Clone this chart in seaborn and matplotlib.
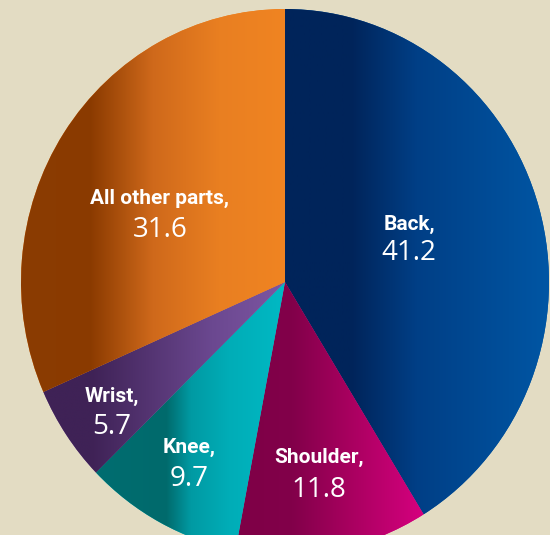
import numpy as np
import matplotlib
matplotlib.use("Agg")
import matplotlib.pyplot as plt
import seaborn as sns
from matplotlib.colors import LinearSegmentedColormap

# ---- data ----
parts = ["Back", "Shoulder", "Knee", "Wrist", "All other parts"]
shares = [41.2, 11.8, 9.7, 5.7, 31.6]
value_labels = ["41.2", "11.8", "9.7", "5.7", "31.6"]

# ---- style ----
sns.set_theme(style="white")
BG = "#e3dcc3"
gradients = [
    [(0.0, "#00245a"), (0.25, "#00245a"), (0.5, "#003f86"), (1.0, "#0056a4")],
    [(0.0, "#7e0046"), (0.3, "#82004a"), (0.6, "#a8005f"), (1.0, "#d6007f")],
    [(0.0, "#006d70"), (0.37, "#006a6c"), (0.5, "#009aa3"), (0.7, "#00adb7"), (1.0, "#00b9c4")],
    [(0.0, "#3f2256"), (0.2, "#3f2256"), (0.7, "#6b4890"), (1.0, "#7d56a2")],
    [(0.0, "#8b3c02"), (0.26, "#8a3a00"), (0.5, "#cf691b"), (0.75, "#e97f21"), (1.0, "#f08421")],
]
# pixel layout: (x centre, label baseline y, value baseline y)
label_layout = [(409, 230, 260), (319, 463, 497), (189.5, 452.5, 486),
                (111.5, 402, 434), (160, 204, 237)]

CX, CY, RX, RY = 285.0, 282.0, 264.0, 273.0
W, H = 550, 535


def px2data(px, py):
    return (px - CX) / RX, (CY - py) / RY


fig = plt.figure(figsize=(5.5, 5.35), dpi=100, facecolor=BG)
ax = fig.add_axes([0, 0, 1, 1])
ax.set_facecolor(BG)

wedges, _ = ax.pie(shares, startangle=90, counterclock=False, radius=1,
                   colors=[g[-1][1] for g in gradients],
                   wedgeprops=dict(linewidth=0))

for w, stops in zip(wedges, gradients):
    ext = w.get_path().get_extents()
    cmap = LinearSegmentedColormap.from_list("g", stops, N=512)
    grad = np.linspace(0, 1, 512)[None, :]
    im = ax.imshow(grad, cmap=cmap, extent=[ext.x0, ext.x1, ext.y0, ext.y1],
                   aspect="auto", interpolation="bilinear", zorder=2)
    im.set_clip_path(w)

for name, val, (px, ly, vy) in zip(parts, value_labels, label_layout):
    x, y = px2data(px, ly)
    ax.text(x, y, name + ",", ha="center", va="baseline", color="white",
            fontsize=15, fontweight="bold",
            family=["Roboto", "DejaVu Sans"], zorder=5)
    x, y = px2data(px, vy)
    ax.text(x, y, val, ha="center", va="baseline", color="white",
            fontsize=20, family=["Open Sans", "DejaVu Sans"], zorder=5)

ax.set_aspect("auto")
ax.set_xlim(-CX / RX, (W - CX) / RX)
ax.set_ylim((CY - H) / RY, CY / RY)
ax.axis("off")

fig.savefig("out.png", dpi=100, facecolor=BG)
